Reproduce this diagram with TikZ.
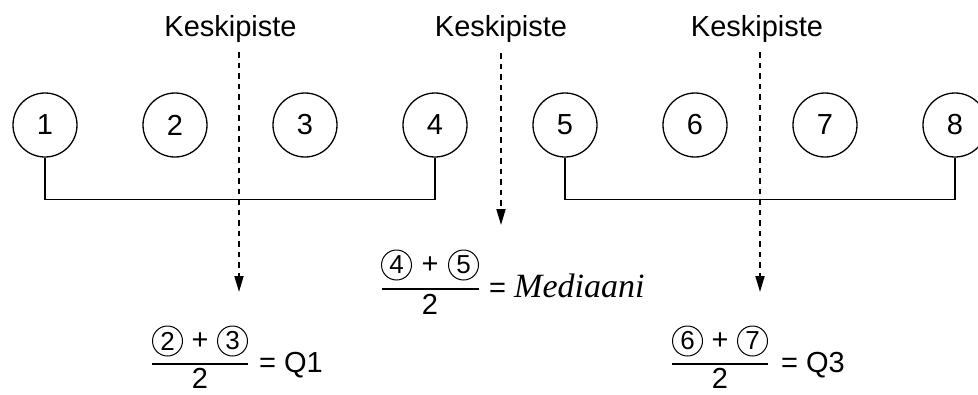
\documentclass[tikz,border=0pt]{standalone}
\usepackage{fontspec}
\setmainfont{Liberation Sans}
\newfontfamily\serifit{Liberation Serif}
\usetikzlibrary{arrows.meta}
\tikzset{
  numcircle/.style={circle, draw, line width=1.3pt, minimum size=64pt, inner sep=0pt,
    font=\fontsize{29}{34}\selectfont},
  smallcircle/.style={circle, draw, line width=1pt, minimum size=30pt, inner sep=0pt,
    font=\fontsize{26}{30}\selectfont},
  bigtext/.style={inner sep=0pt, font=\fontsize{29}{34}\selectfont},
  bracketline/.style={line width=1.4pt},
  fracbar/.style={line width=1.3pt},
  dashedarrow/.style={line width=1.8pt, dash pattern=on 5.5pt off 5pt,
    -{Triangle[width=9pt,length=16pt]}},
}
\begin{document}
\begin{tikzpicture}[x=1pt,y=-1pt]
\useasboundingbox (0,0) rectangle (978,394);
% labels
\node[bigtext, anchor=base] (k1) at (230.5,36) {Keskipiste};
\node[bigtext, anchor=base] (k2) at (501,36) {Keskipiste};
\node[bigtext, anchor=base] (k3) at (757,36) {Keskipiste};
% circles
\foreach \i in {1,...,8} {
  \node[numcircle] (c\i) at ({45+130*(\i-1)},125) {\i};
}
% brackets
\draw[bracketline] (c1.south) -- ++(0,42) -| (c4.south);
\draw[bracketline] (c5.south) -- ++(0,42) -| (c8.south);
% dashed arrows
\coordinate (s1) at (239,52);  \coordinate (e1) at (239,292);
\coordinate (s2) at (501,53);  \coordinate (e2) at (501,225);
\coordinate (s3) at (760,52);  \coordinate (e3) at (760,292);
\draw[dashedarrow] (s1) -- (e1);
\draw[dashedarrow] (s2) -- (e2);
\draw[dashedarrow] (s3) -- (e3);
% formula Q1
\node[smallcircle] (q1a) at (167.5,341) {2};
\node[bigtext] (q1p) at (200,341) {+};
\node[smallcircle] (q1b) at (232.5,341) {3};
\coordinate (q1l) at (152,364); \coordinate (q1r) at (248,364);
\draw[fracbar] (q1l) -- (q1r);
\node[bigtext, anchor=base] (q1d) at (200,388.5) {2};
\node[bigtext, anchor=base west] (q1e) at (259,372) {= Q1};
% formula median
\node[smallcircle] (ma) at (396.5,265) {4};
\node[bigtext] (mp) at (430,265) {+};
\node[smallcircle] (mb) at (463.5,265) {5};
\coordinate (ml) at (382,289); \coordinate (mr) at (479,289);
\draw[fracbar] (ml) -- (mr);
\node[bigtext, anchor=base] (md) at (430,314) {2};
\node[bigtext, anchor=base west] (me) at (489,297) {= {\serifit\itshape\fontsize{34}{39}\selectfont Mediaani}};
% formula Q3
\node[smallcircle] (q3a) at (687.5,341) {6};
\node[bigtext] (q3p) at (720,341) {+};
\node[smallcircle] (q3b) at (752.5,341) {7};
\coordinate (q3l) at (672,364); \coordinate (q3r) at (768,364);
\draw[fracbar] (q3l) -- (q3r);
\node[bigtext, anchor=base] (q3d) at (720,388.5) {2};
\node[bigtext, anchor=base west] (q3e) at (781,372) {= Q3};
\end{tikzpicture}
\end{document}
